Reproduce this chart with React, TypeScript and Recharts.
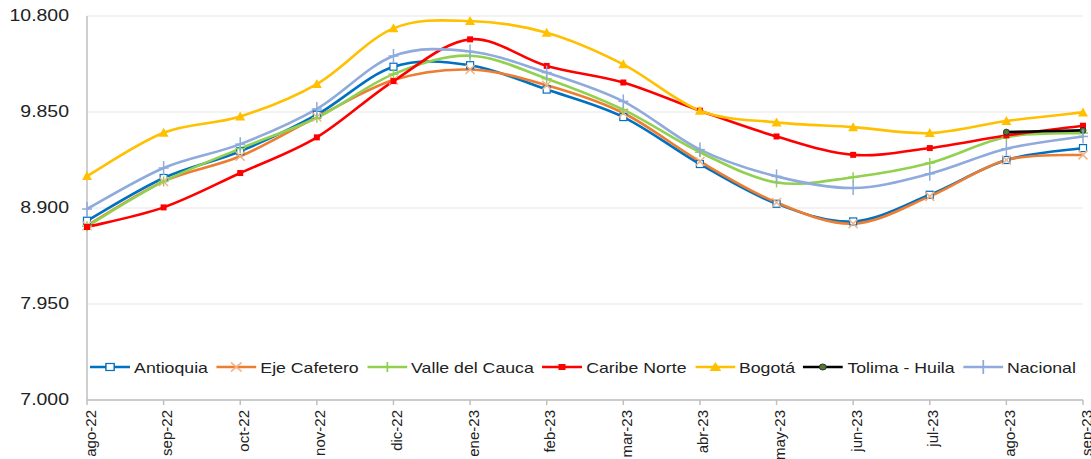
import React from "react";
import { LineChart, Line, XAxis, YAxis, CartesianGrid } from "recharts";

// datos (precio promedio por región)
const meses = [
  "ago-22", "sep-22", "oct-22", "nov-22", "dic-22", "ene-23", "feb-23",
  "mar-23", "abr-23", "may-23", "jun-23", "jul-23", "ago-23", "sep-23",
];
const antioquia = [8774, 9197, 9462, 9823, 10298, 10313, 10072, 9800, 9335, 8942, 8767, 9031, 9375, 9493];
const ejeCafetero = [8725, 9163, 9412, 9800, 10166, 10270, 10115, 9840, 9361, 8955, 8745, 9015, 9375, 9426];
const valleDelCauca = [8720, 9163, 9488, 9793, 10225, 10407, 10180, 9873, 9452, 9153, 9205, 9345, 9602, 9642];
const caribeNorte = [8712, 8906, 9246, 9599, 10156, 10569, 10306, 10142, 9863, 9608, 9426, 9493, 9618, 9714];
const bogota = [9216, 9645, 9806, 10127, 10678, 10750, 10635, 10322, 9863, 9747, 9700, 9641, 9761, 9846];
const tolimaHuila = [null, null, null, null, null, null, null, null, null, null, null, null, 9651, 9668];
const nacional = [8890, 9296, 9532, 9880, 10404, 10449, 10240, 9955, 9478, 9213, 9098, 9239, 9486, 9608];
const yTicks = [7000, 7950, 8900, 9850, 10800];

const data = meses.map((m, i) => ({
  mes: m,
  antioquia: antioquia[i],
  eje: ejeCafetero[i],
  valle: valleDelCauca[i],
  caribe: caribeNorte[i],
  bogota: bogota[i],
  tolima: tolimaHuila[i],
  nacional: nacional[i],
}));

if (typeof document !== "undefined") document.body.style.margin = "0";

const FONT = "'Liberation Sans', Arial, sans-serif";

// suavizado tipo Excel (Catmull-Rom)
const excelCurve = (context: any) => {
  let pts: [number, number][] = [];
  return {
    areaStart() {},
    areaEnd() {},
    lineStart() {
      pts = [];
    },
    lineEnd() {
      const n = pts.length;
      if (!n) return;
      context.moveTo(pts[0][0], pts[0][1]);
      for (let i = 0; i < n - 1; i++) {
        const p0 = pts[Math.max(i - 1, 0)];
        const p1 = pts[i];
        const p2 = pts[i + 1];
        const p3 = pts[Math.min(i + 2, n - 1)];
        context.bezierCurveTo(
          p1[0] + (p2[0] - p0[0]) / 6,
          p1[1] + (p2[1] - p0[1]) / 6,
          p2[0] - (p3[0] - p1[0]) / 6,
          p2[1] - (p3[1] - p1[1]) / 6,
          p2[0],
          p2[1]
        );
      }
    },
    point(x: number, y: number) {
      pts.push([x, y]);
    },
  };
};

type Shape = "sqOpen" | "x" | "plus" | "sq" | "tri" | "circle" | "plusBig";

const Marker = ({ shape, cx, cy }: { shape: Shape; cx: number; cy: number }) => {
  switch (shape) {
    case "sqOpen":
      return <rect x={cx - 3.5} y={cy - 3.5} width={7} height={7} fill="#fff" stroke="#0070C0" strokeWidth={1.2} />;
    case "x":
      return (
        <g stroke="#F4B183" strokeWidth={1.5}>
          <line x1={cx - 4.5} y1={cy - 4.5} x2={cx + 4.5} y2={cy + 4.5} />
          <line x1={cx - 4.5} y1={cy + 4.5} x2={cx + 4.5} y2={cy - 4.5} />
        </g>
      );
    case "plus":
      return (
        <g stroke="#92D050" strokeWidth={1.5}>
          <line x1={cx - 5} y1={cy} x2={cx + 5} y2={cy} />
          <line x1={cx} y1={cy - 5} x2={cx} y2={cy + 5} />
        </g>
      );
    case "sq":
      return <rect x={cx - 3} y={cy - 3} width={6} height={6} fill="#FF0000" />;
    case "tri":
      return <polygon points={`${cx},${cy - 5} ${cx - 5},${cy + 4} ${cx + 5},${cy + 4}`} fill="#FFC000" />;
    case "circle":
      return <circle cx={cx} cy={cy} r={3} fill="#4E7A2E" stroke="#223" strokeWidth={0.8} />;
    default:
      return (
        <g stroke="#8FAADC" strokeWidth={1.5}>
          <line x1={cx - 5} y1={cy} x2={cx + 5} y2={cy} />
          <line x1={cx} y1={cy - 7} x2={cx} y2={cy + 7} />
        </g>
      );
  }
};

const makeDot = (shape: Shape) => (props: any) => {
  const { cx, cy, index } = props;
  if (cx == null || cy == null || props.value == null) return <g key={`d-${shape}-${index}`} />;
  return (
    <g key={`d-${shape}-${index}`}>
      <Marker shape={shape} cx={cx} cy={cy} />
    </g>
  );
};

const series: { key: string; name: string; color: string; shape: Shape }[] = [
  { key: "antioquia", name: "Antioquia", color: "#0070C0", shape: "sqOpen" },
  { key: "eje", name: "Eje Cafetero", color: "#ED7D31", shape: "x" },
  { key: "valle", name: "Valle del Cauca", color: "#92D050", shape: "plus" },
  { key: "caribe", name: "Caribe Norte", color: "#FF0000", shape: "sq" },
  { key: "bogota", name: "Bogotá", color: "#FFC000", shape: "tri" },
  { key: "tolima", name: "Tolima - Huila", color: "#000000", shape: "circle" },
  { key: "nacional", name: "Nacional", color: "#8FAADC", shape: "plusBig" },
];

const fmt = (v: number) => v.toLocaleString("de-DE");

const YTick = ({ x, y, payload }: any) => (
  <text
    x={0}
    y={0}
    transform={`translate(${x - 10},${y}) scale(1.18,1)`}
    textAnchor="end"
    dominantBaseline="central"
    fontFamily={FONT}
    fontSize={16.5}
    fill="#222"
  >
    {fmt(payload.value)}
  </text>
);

const XTick = ({ x, y, payload }: any) => (
  <g transform={`translate(${x + 3},${y + 3})`}>
    <text
      x={0}
      y={0}
      transform="rotate(-90)"
      textAnchor="end"
      dominantBaseline="central"
      fontFamily={FONT}
      fontSize={15}
      fill="#222"
    >
      {payload.value}
    </text>
  </g>
);

export default function App() {
  return (
    <div style={{ position: "relative", width: 1091, height: 459, background: "#fff" }}>
      <LineChart width={1091} height={459} data={data} margin={{ top: 16, right: 8, bottom: 0, left: 0 }}>
        <CartesianGrid horizontal vertical={false} stroke="#e8e8e8" strokeWidth={1.2} />
        <XAxis
          dataKey="mes"
          interval={0}
          height={59}
          tick={<XTick />}
          tickSize={5}
          stroke="#bfbfbf"
          strokeWidth={1.5}
          tickLine={{ stroke: "#bfbfbf" }}
        />
        <YAxis
          domain={[7000, 10800]}
          ticks={yTicks}
          width={87}
          tickLine={false}
          tick={<YTick />}
          stroke="#bfbfbf"
          strokeWidth={1.5}
        />
        {series.map((s) => (
          <Line
            key={s.key}
            dataKey={s.key}
            name={s.name}
            type={excelCurve as any}
            stroke={s.color}
            strokeWidth={2.6}
            dot={makeDot(s.shape)}
            activeDot={false}
            isAnimationActive={false}
          />
        ))}
      </LineChart>
      <div
        style={{
          position: "absolute",
          left: 90,
          top: 357,
          display: "flex",
          alignItems: "center",
          fontFamily: FONT,
          fontSize: 15,
          color: "#222",
          whiteSpace: "nowrap",
          transform: "scaleX(1.18)",
          transformOrigin: "left center",
        }}
      >
        {series.map((s, i) => (
          <div
            key={s.key}
            style={{ display: "flex", alignItems: "center", marginRight: i < series.length - 1 ? 7 : 0 }}
          >
            <svg width={34} height={20}>
              <line x1={0} y1={10} x2={34} y2={10} stroke={s.color} strokeWidth={2.6} />
              <Marker shape={s.shape} cx={17} cy={10} />
            </svg>
            <span style={{ marginLeft: 3.4 }}>{s.name}</span>
          </div>
        ))}
      </div>
    </div>
  );
}
